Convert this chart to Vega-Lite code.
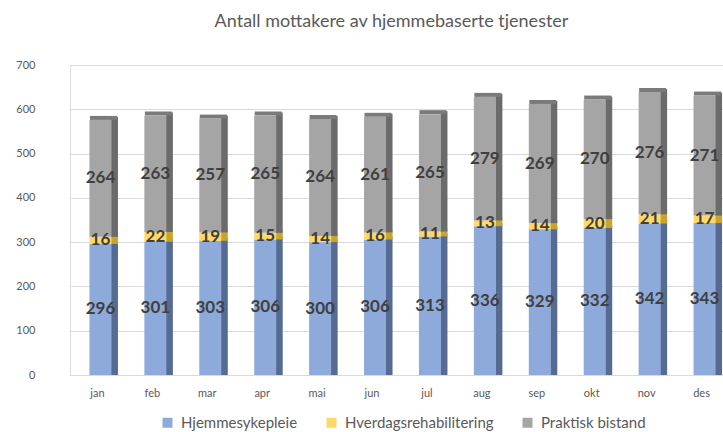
{
  "$schema": "https://vega.github.io/schema/vega-lite/v6.json",
  "width": 659,
  "height": 310,
  "autosize": {"type": "none"},
  "padding": {"left": 70, "top": 65, "right": 0, "bottom": 57},
  "background": "white",
  "title": {
    "text": "Antall mottakere av hjemmebaserte tjenester",
    "anchor": "middle",
    "frame": "group",
    "dx": -8,
    "offset": 14,
    "baseline": "alphabetic",
    "font": "Lato",
    "fontSize": 18,
    "fontWeight": "normal",
    "color": "#595959"
  },
  "data": {
    "values": [
      {"mnd": "jan", "kategori": "Hjemmesykepleie", "antall": 296},
      {"mnd": "jan", "kategori": "Hverdagsrehabilitering", "antall": 16},
      {"mnd": "jan", "kategori": "Praktisk bistand", "antall": 264},
      {"mnd": "feb", "kategori": "Hjemmesykepleie", "antall": 301},
      {"mnd": "feb", "kategori": "Hverdagsrehabilitering", "antall": 22},
      {"mnd": "feb", "kategori": "Praktisk bistand", "antall": 263},
      {"mnd": "mar", "kategori": "Hjemmesykepleie", "antall": 303},
      {"mnd": "mar", "kategori": "Hverdagsrehabilitering", "antall": 19},
      {"mnd": "mar", "kategori": "Praktisk bistand", "antall": 257},
      {"mnd": "apr", "kategori": "Hjemmesykepleie", "antall": 306},
      {"mnd": "apr", "kategori": "Hverdagsrehabilitering", "antall": 15},
      {"mnd": "apr", "kategori": "Praktisk bistand", "antall": 265},
      {"mnd": "mai", "kategori": "Hjemmesykepleie", "antall": 300},
      {"mnd": "mai", "kategori": "Hverdagsrehabilitering", "antall": 14},
      {"mnd": "mai", "kategori": "Praktisk bistand", "antall": 264},
      {"mnd": "jun", "kategori": "Hjemmesykepleie", "antall": 306},
      {"mnd": "jun", "kategori": "Hverdagsrehabilitering", "antall": 16},
      {"mnd": "jun", "kategori": "Praktisk bistand", "antall": 261},
      {"mnd": "jul", "kategori": "Hjemmesykepleie", "antall": 313},
      {"mnd": "jul", "kategori": "Hverdagsrehabilitering", "antall": 11},
      {"mnd": "jul", "kategori": "Praktisk bistand", "antall": 265},
      {"mnd": "aug", "kategori": "Hjemmesykepleie", "antall": 336},
      {"mnd": "aug", "kategori": "Hverdagsrehabilitering", "antall": 13},
      {"mnd": "aug", "kategori": "Praktisk bistand", "antall": 279},
      {"mnd": "sep", "kategori": "Hjemmesykepleie", "antall": 329},
      {"mnd": "sep", "kategori": "Hverdagsrehabilitering", "antall": 14},
      {"mnd": "sep", "kategori": "Praktisk bistand", "antall": 269},
      {"mnd": "okt", "kategori": "Hjemmesykepleie", "antall": 332},
      {"mnd": "okt", "kategori": "Hverdagsrehabilitering", "antall": 20},
      {"mnd": "okt", "kategori": "Praktisk bistand", "antall": 270},
      {"mnd": "nov", "kategori": "Hjemmesykepleie", "antall": 342},
      {"mnd": "nov", "kategori": "Hverdagsrehabilitering", "antall": 21},
      {"mnd": "nov", "kategori": "Praktisk bistand", "antall": 276},
      {"mnd": "des", "kategori": "Hjemmesykepleie", "antall": 343},
      {"mnd": "des", "kategori": "Hverdagsrehabilitering", "antall": 17},
      {"mnd": "des", "kategori": "Praktisk bistand", "antall": 271}
    ]
  },
  "transform": [
    {"stack": "antall", "groupby": ["mnd"], "sort": [{"field": "kategori", "order": "ascending"}], "as": ["y0", "y1"]}
  ],
  "encoding": {
    "x": {
      "field": "mnd",
      "type": "nominal",
      "sort": ["jan", "feb", "mar", "apr", "mai", "jun", "jul", "aug", "sep", "okt", "nov", "des"],
      "scale": {"paddingInner": 0, "paddingOuter": 0},
      "axis": {
        "title": null,
        "labelAngle": 0,
        "domain": false,
        "ticks": false,
        "labelPadding": 12,
        "labelFont": "Lato",
        "labelFontSize": 11,
        "labelColor": "#595959"
      }
    }
  },
  "layer": [
    {
      "mark": {"type": "bar", "width": 7, "xOffset": 17, "yOffset": -3},
      "encoding": {
        "y": {"field": "y1", "type": "quantitative", "scale": {"domain": [0, 700]},
          "axis": {
            "title": null,
            "values": [0, 100, 200, 300, 400, 500, 600, 700],
            "domain": false,
            "ticks": false,
            "tickSize": 0,
            "labelPadding": 3,
            "offset": 32,
            "gridColor": "#d9d9d9",
            "labelFont": "Lato",
            "labelFontSize": 11,
            "labelColor": "#595959"
          }
        },
        "y2": {"field": "y0"},
        "color": {
          "field": "kategori",
          "type": "nominal",
          "scale": {"domain": ["Hjemmesykepleie", "Hverdagsrehabilitering", "Praktisk bistand"], "range": ["#566b92", "#c9a42f", "#6b6b6b"]},
          "legend": null
        }
      }
    },
    {
      "transform": [{"filter": "datum.kategori == 'Praktisk bistand'"}],
      "mark": {"type": "tick", "thickness": 4, "size": 27, "xOffset": 6, "yOffset": -2, "color": "#7a7a7a", "opacity": 1},
      "encoding": {
        "y": {"field": "y1", "type": "quantitative"}
      }
    },
    {
      "layer": [
        {
          "mark": {"type": "bar", "width": 22, "xOffset": 3},
          "encoding": {
            "y": {"field": "y1", "type": "quantitative"},
            "y2": {"field": "y0"},
            "color": {
              "field": "kategori",
              "type": "nominal",
              "scale": {"domain": ["Hjemmesykepleie", "Hverdagsrehabilitering", "Praktisk bistand"], "range": ["#8eaadb", "#ffd966", "#a5a5a5"]},
              "legend": {
                "title": null,
                "orient": "none",
                "direction": "horizontal",
                "legendX": 90,
                "legendY": 350,
                "symbolType": "square",
                "symbolSize": 100,
                "symbolStrokeWidth": 0,
                "labelFont": "Lato",
                "labelFontSize": 15,
                "labelColor": "#595959",
                "columnPadding": 26,
                "labelOffset": 6
              }
            }
          }
        },
        {
          "transform": [
            {"fold": ["y0", "y1"], "as": ["kant", "verdi"]},
            {"aggregate": [{"op": "mean", "field": "verdi", "as": "midt"}], "groupby": ["mnd", "kategori", "antall"]}
          ],
          "mark": {"type": "text", "xOffset": 3, "font": "Lato", "fontSize": 17, "fontWeight": "bold", "color": "#404040", "baseline": "middle"},
          "encoding": {
            "y": {"field": "midt", "type": "quantitative"},
            "text": {"field": "antall", "type": "quantitative"}
          }
        }
      ]
    }
  ],
  "resolve": {"scale": {"color": "independent"}, "legend": {"color": "independent"}}
}
